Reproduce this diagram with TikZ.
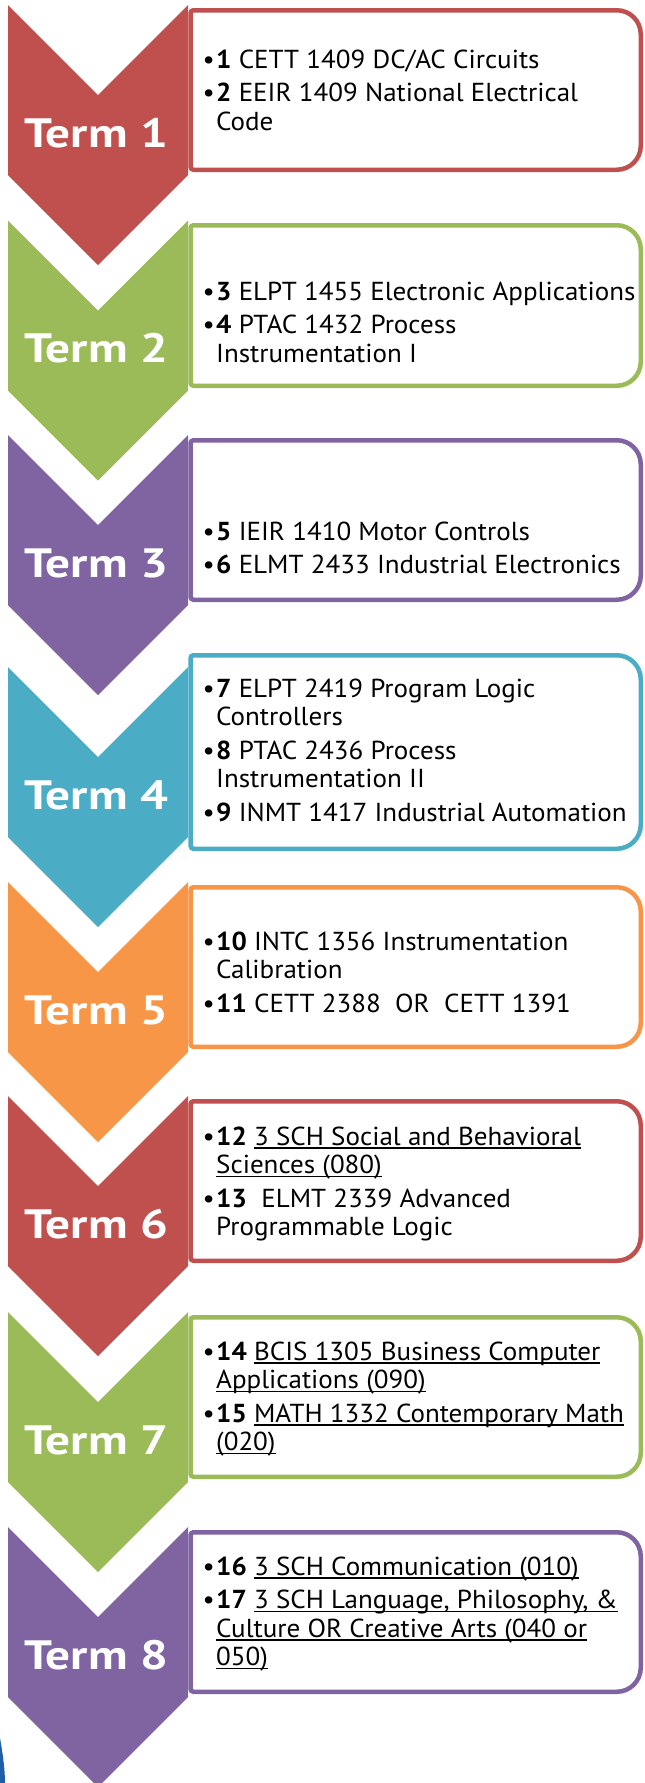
\documentclass[tikz,border=0pt]{standalone}
\usepackage{fontspec}
\setmainfont{PT Sans}[FakeStretch=1.04]
\newfontfamily\termfont{PT Sans}[FakeStretch=1.2]
\definecolor{cred}{HTML}{C0504D}
\definecolor{cgreen}{HTML}{9BBB59}
\definecolor{cpurple}{HTML}{8064A2}
\definecolor{cteal}{HTML}{4BACC6}
\definecolor{corange}{HTML}{F79646}
\definecolor{cblue}{HTML}{1F5FA8}
\newcommand\Ul[1]{\setbox0\hbox{#1}\rlap{\rule[-3.5pt]{\wd0}{1.3pt}}\box0}
\newcommand\Bul{\makebox[15pt][c]{\textbullet}}
\newcommand\Li[2]{\hbox{\Bul\textbf{#1} #2}}
\newcommand\Lc[1]{\hbox{\hspace*{15pt}#1}}
\newcommand\Gp{\vskip5pt}
\newcommand\Txt[1]{\vtop{\baselineskip=28.5pt\lineskiplimit=-100pt\lineskip=0pt #1}}
\tikzset{
  boxline/.style={line width=4.5pt, fill=white},
  txt/.style={anchor=base west, inner sep=0pt, text=black, font=\fontsize{26}{28.5}\selectfont},
  termlbl/.style={anchor=base, inner sep=0pt, text=white, font=\termfont\bfseries\fontsize{41}{41}\selectfont},
}
\newcommand\Stage[5]{%
  \draw[boxline, draw=#4, rounded corners=3pt] (190.5,{#2+#3-2.25}) -- (190.5,{#2-#3+2.25}) -- (400,{#2-#3+2.25}) [rounded corners=24pt] -- (640.75,{#2-#3+2.25}) -- (640.75,{#2+#3-2.25}) -- (400,{#2+#3-2.25}) [rounded corners=3pt] -- cycle;
  \fill[#4] (8,{#2-85}) -- (98,{#2+5}) -- (188,{#2-85}) -- (188,{#2+85}) -- (98,{#2+175}) -- (8,{#2+85}) -- cycle;
  \node[termlbl] (#1) at (96,{#2+57}) {#5};
}
\begin{document}
\begin{tikzpicture}[x=1pt,y=-1pt]
\useasboundingbox (0,0) rectangle (645,1783);
\fill[white] (0,0) rectangle (645,1783);

\Stage{term1}{90}{82}{cred}{Term 1}
\Stage{term2}{305.5}{82.5}{cgreen}{Term 2}
\Stage{term3}{520}{82}{cpurple}{Term 3}
\Stage{term4}{752}{99}{cteal}{Term 4}
\Stage{term5}{967}{82}{corange}{Term 5}
\Stage{term6}{1181}{82}{cred}{Term 6}
\Stage{term7}{1397}{82}{cgreen}{Term 7}
\Stage{term8}{1612}{82}{cpurple}{Term 8}

\node[txt] (t1) at (201,68) {\Txt{\Li{1}{CETT 1409 DC/AC Circuits}\Gp\Li{2}{EEIR 1409 National Electrical}\Lc{Code}}};
\node[txt] (t2) at (201,300) {\Txt{\Li{3}{ELPT 1455 Electronic Applications}\Gp\Li{4}{PTAC 1432 Process}\Lc{Instrumentation I}}};
\node[txt] (t3) at (201,540) {\Txt{\Li{5}{IEIR 1410 Motor Controls}\Gp\Li{6}{ELMT 2433 Industrial Electronics}}};
\node[txt] (t4) at (201,697) {\Txt{\Li{7}{ELPT 2419 Program Logic}\Lc{Controllers}\Gp\Li{8}{PTAC 2436 Process}\Lc{Instrumentation II}\Gp\Li{9}{INMT 1417 Industrial Automation}}};
\node[txt] (t5) at (201,950) {\Txt{\Li{10}{INTC 1356 Instrumentation}\Lc{Calibration}\Gp\Li{11}{CETT 2388\ \ OR\ \ CETT 1391}}};
\node[txt] (t6) at (201,1145) {\Txt{\Li{12}{\Ul{3 SCH Social and Behavioral}}\Lc{\Ul{Sciences (080)}}\Gp\Li{13}{\ ELMT 2339 Advanced}\Lc{Programmable Logic}}};
\node[txt] (t7) at (201,1360) {\Txt{\Li{14}{\Ul{BCIS 1305 Business Computer}}\Lc{\Ul{Applications (090)}}\Gp\Li{15}{\Ul{MATH 1332 Contemporary Math}}\Lc{\Ul{(020)}}}};
\node[txt] (t8) at (201,1575) {\Txt{\Li{16}{\Ul{3 SCH Communication (010)}}\Gp\Li{17}{\Ul{3 SCH Language, Philosophy, \&}}\Lc{\Ul{Culture OR Creative Arts (040 or}}\Lc{\Ul{050)}}}};

\fill[cblue] (0,1738) .. controls (3,1755) and (5,1770) .. (5,1783) -- (0,1783) -- cycle;
\end{tikzpicture}
\end{document}
